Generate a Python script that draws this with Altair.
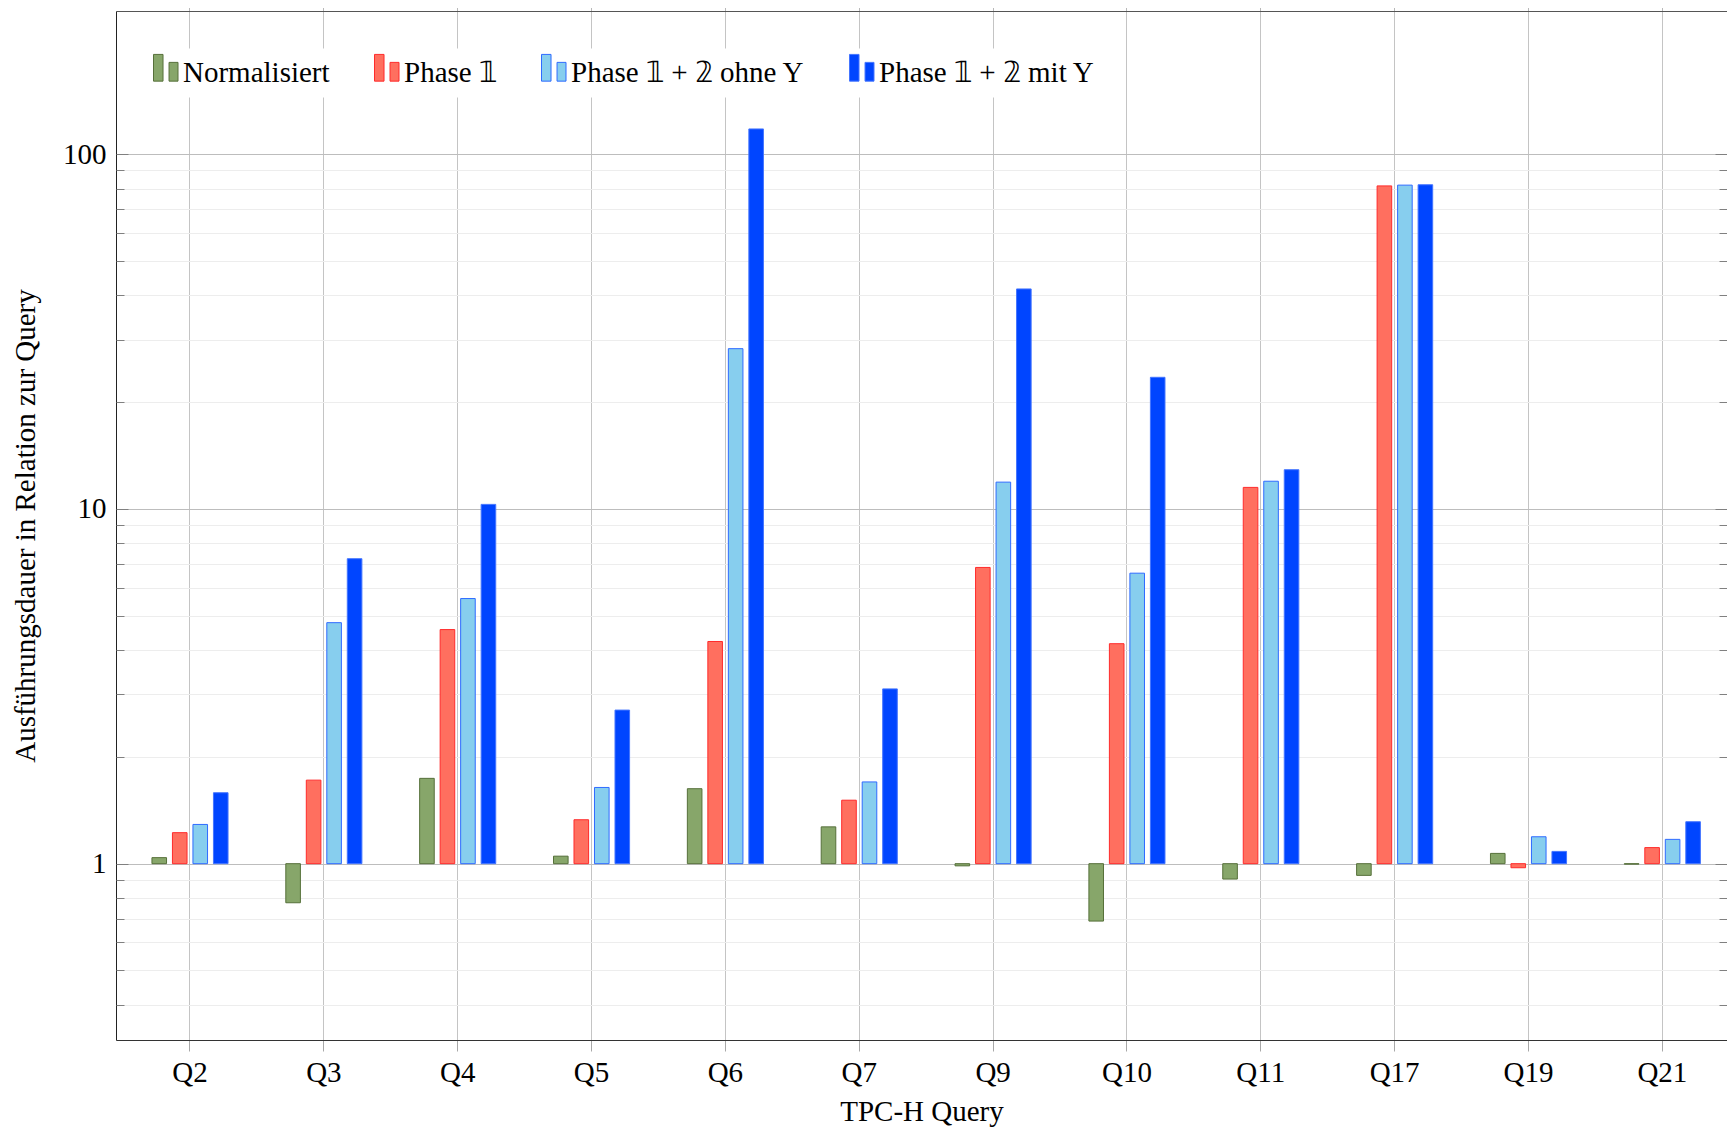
import altair as alt
import pandas as pd

FONT = "Liberation Serif"
FS = 29

queries = ["Q2", "Q3", "Q4", "Q5", "Q6", "Q7", "Q9", "Q10", "Q11", "Q17", "Q19", "Q21"]
series = ["Normalisiert", "Phase 𝟙", "Phase 𝟙 + 𝟚 ohne Y", "Phase 𝟙 + 𝟚 mit Y"]

normalisiert = [1.04, 0.776, 1.74, 1.05, 1.627, 1.27, 0.986, 0.689, 0.905, 0.927, 1.069, 0.997]
phase1 = [1.223, 1.72, 4.57, 1.33, 4.23, 1.51, 6.84, 4.17, 11.5, 81.4, 0.974, 1.11]
phase12_ohne_y = [1.29, 4.78, 5.59, 1.64, 28.3, 1.70, 11.9, 6.59, 11.97, 81.8, 1.191, 1.171]
phase12_mit_y = [1.585, 7.24, 10.3, 2.71, 117.8, 3.11, 41.7, 23.5, 12.9, 82.0, 1.083, 1.313]

y_tick_values = [0.4, 0.5, 0.6, 0.7, 0.8, 0.9, 1, 2, 3, 4, 5, 6, 7, 8, 9,
                 10, 20, 30, 40, 50, 60, 70, 80, 90, 100]
major_ticks = [1, 10, 100]
y_domain = [0.3184, 253.3]

fills = ["#87a66a", "#ff6f5f", "#87ceee", "#0045ff"]
strokes = ["#56703a", "#ff2b2b", "#2f6bff", "#4475ff"]

rows = []
for i, q in enumerate(queries):
    for s, vals in zip(series, [normalisiert, phase1, phase12_ohne_y, phase12_mit_y]):
        rows.append({"query": q, "series": s, "value": vals[i], "base": 1})
df = pd.DataFrame(rows)

W, H = 1611, 1029

major_test = "indexof([1, 10, 100], datum.value) >= 0"

xscale = alt.Scale(domain=queries, paddingInner=0.3874, paddingOuter=0.2116, align=0.5825)
yscale = alt.Scale(type="log", domain=y_domain, nice=False)

legend_symbol = "M-1,-1.31H-0.32V0.6H-1Z M0.11,-0.74H0.75V0.6H0.11Z"

legend = alt.Legend(
    title=None, orient="none", legendX=27.5, legendY=37.5, direction="horizontal",
    fillColor="white", padding=9.5, columnPadding=42, labelOffset=1,
    symbolSize=784, symbolType=legend_symbol, symbolStrokeWidth=1,
    labelFont=FONT, labelFontSize=FS, labelColor="black", labelLimit=0,
)

bars = alt.Chart(df).mark_bar(strokeWidth=1).encode(
    x=alt.X("query:N", sort=queries, scale=xscale,
            axis=alt.Axis(orient="bottom", title="TPC-H Query", grid=True, gridColor="#c4c4c4",
                          ticks=True, tickSize=11, tickColor="#a8a8a8", domain=True,
                          domainColor="#333333", labelAngle=0, labelFont=FONT, labelFontSize=FS,
                          labelColor="black", labelPadding=7, titleFont=FONT, titleFontSize=FS,
                          titleFontWeight="normal", titleColor="black", titlePadding=10)),
    xOffset=alt.XOffset("series:N", sort=series,
                        scale=alt.Scale(domain=series, paddingInner=0.288, paddingOuter=0.144)),
    y=alt.Y("value:Q", scale=yscale,
            axis=alt.Axis(orient="left", values=y_tick_values,
                          labelExpr="datum.value == 1 ? '1' : datum.value == 10 ? '10' : datum.value == 100 ? '100' : ''",
                          labelOverlap=False, ticks=False, grid=True,
                          gridColor={"condition": {"test": major_test, "value": "#bdbdbd"}, "value": "#ededed"},
                          domain=True, domainColor="#222222", labelPadding=10, labelFont=FONT,
                          labelFontSize=FS, labelColor="black",
                          title="Ausführungsdauer in Relation zur Query", titleFont=FONT,
                          titleFontSize=FS, titleFontWeight="normal", titleColor="black",
                          titlePadding=22)),
    y2=alt.Y2("base:Q"),
    fill=alt.Fill("series:N", sort=series, scale=alt.Scale(domain=series, range=fills), legend=legend),
    stroke=alt.Stroke("series:N", sort=series, scale=alt.Scale(domain=series, range=strokes), legend=legend),
)

tick_size = {"condition": {"test": major_test, "value": 12}, "value": 8}

inner_left = alt.Chart(df).mark_point(opacity=0).encode(
    x=alt.X("query:N", sort=queries, scale=xscale,
            axis=alt.Axis(orient="top", labels=False, title=None, grid=False, ticks=True,
                          tickSize=11, tickColor="#b8b8b8", domain=True, domainColor="#555555")),
    y=alt.Y("value:Q", scale=yscale,
            axis=alt.Axis(orient="right", offset=-W, values=y_tick_values, labels=False,
                          title=None, grid=False, domain=False, ticks=True, tickSize=tick_size,
                          tickColor="#808080")),
)

inner_right = alt.Chart(df).mark_point(opacity=0).encode(
    x=alt.X("query:N", sort=queries, scale=xscale, axis=None),
    y=alt.Y("value:Q", scale=yscale,
            axis=alt.Axis(orient="left", offset=-W, values=y_tick_values, labels=False,
                          title=None, grid=False, domain=False, ticks=True, tickSize=tick_size,
                          tickColor="#808080")),
)

chart = alt.layer(bars, inner_left, inner_right).resolve_axis(
    x="independent", y="independent"
).properties(
    width=W, height=H,
    padding={"left": 108, "top": 3, "right": 0, "bottom": 88},
    autosize=alt.AutoSizeParams(type="none"),
).configure_view(stroke=None)

chart.save("out.html", embed_options={"renderer": "svg", "actions": False})
